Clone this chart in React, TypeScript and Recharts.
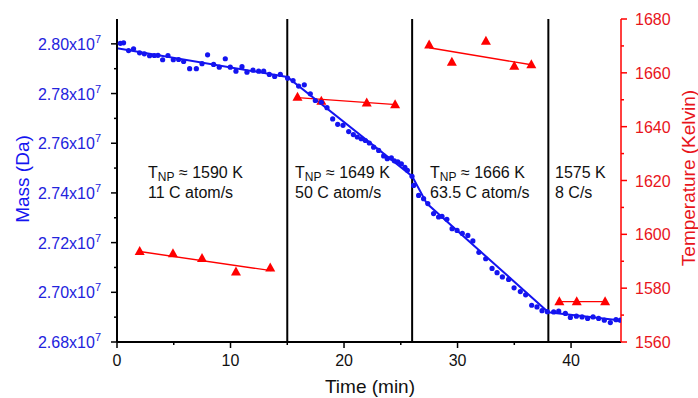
import React from "react";
import {
  ComposedChart,
  Line,
  XAxis,
  YAxis,
  ReferenceLine,
} from "recharts";

// mass points (time in min, mass in units of 1e7 Da)
const massTime = [
  0.29, 0.58, 1.02, 1.46, 1.99, 2.41, 2.87, 3.29, 3.61, 4.02, 4.49, 4.96, 5.43,
  5.87, 6.4, 6.99, 7.49, 7.98, 8.51, 9.01, 9.54, 9.98, 10.48, 11.01, 11.45,
  11.98, 12.48, 12.92, 13.42, 13.89, 14.39, 15.03, 15.51, 16.0, 16.5, 17.03,
  17.47, 18.0, 18.5, 19.0, 19.44, 19.91, 20.41, 20.82, 21.17, 21.52, 21.88,
  22.23, 22.61, 23.05, 23.49, 23.81, 24.17, 24.43, 24.74, 25.05, 25.36, 25.58,
  25.99, 26.13, 26.57, 27.01, 27.38, 27.89, 28.33, 28.63, 29.06, 29.52, 29.96,
  30.42, 30.91, 31.35, 31.88, 32.48, 33.04, 33.48, 33.95, 34.5, 34.98, 35.53,
  36.0, 36.53, 37.0, 37.44, 37.91, 38.47, 38.91, 39.5, 39.94, 40.47, 40.97,
  41.46, 41.94, 42.43, 42.93, 43.46, 43.96, 44.34,
];
const massValue = [
  2.8002, 2.8004, 2.7973, 2.798, 2.7964, 2.796, 2.7952, 2.7953, 2.7954, 2.7936,
  2.7953, 2.7936, 2.7937, 2.7929, 2.79, 2.79, 2.792, 2.7956, 2.7917, 2.7906,
  2.794, 2.7906, 2.789, 2.7908, 2.7886, 2.7894, 2.789, 2.789, 2.7877, 2.7869,
  2.7877, 2.7862, 2.7852, 2.783, 2.7835, 2.7799, 2.7772, 2.7765, 2.7743,
  2.7698, 2.7676, 2.7672, 2.7647, 2.7635, 2.7625, 2.7618, 2.7611, 2.7601,
  2.7584, 2.7571, 2.7549, 2.7538, 2.7541, 2.7529, 2.7525, 2.7517, 2.7503,
  2.7491, 2.7467, 2.743, 2.739, 2.7377, 2.7357, 2.7317, 2.7303, 2.7306, 2.7294,
  2.7256, 2.7249, 2.7237, 2.7229, 2.7207, 2.7161, 2.7135, 2.7096, 2.7079,
  2.7062, 2.7052, 2.7018, 2.7003, 2.699, 2.6948, 2.6941, 2.6926, 2.6922,
  2.6921, 2.6924, 2.6915, 2.6899, 2.6904, 2.6901, 2.6895, 2.6901, 2.6895,
  2.6888, 2.6878, 2.689, 2.6888,
];

// fitted mass trend
const massFitTime = [0, 15, 26, 27.3, 38, 44.4];
const massFitValue = [2.7982, 2.7867, 2.7467, 2.7357, 2.692, 2.6887];

// temperature points per stage
const tempTime1 = [2.0, 4.93, 7.49, 10.48, 13.5];
const tempValue1 = [1593.6, 1592.8, 1591.0, 1586.0, 1587.5];
const tempTime2 = [15.9, 18.0, 22.0, 24.5];
const tempValue2 = [1650.9, 1649.4, 1648.8, 1648.1];
const tempTime3 = [27.5, 29.5, 32.5, 35.0, 36.5];
const tempValue3 = [1670.3, 1663.9, 1671.7, 1662.4, 1663.0];
const tempTime4 = [38.97, 40.5, 43.0];
const tempValue4 = [1575, 1575, 1575];

// temperature fits (start, end)
const tempFits = [
  { t: [2.0, 13.6], v: [1593.6, 1586.5] },
  { t: [15.9, 24.6], v: [1650.8, 1648.2] },
  { t: [27.5, 36.5], v: [1669.3, 1663.0] },
  { t: [38.97, 43.0], v: [1575, 1575] },
];

// stage boundaries (min)
const stageBounds = [15, 26, 38];

const timeTicks = [0, 5, 10, 15, 20, 25, 30, 35, 40];
const massTicks = [
  2.68, 2.69, 2.7, 2.71, 2.72, 2.73, 2.74, 2.75, 2.76, 2.77, 2.78, 2.79, 2.8,
];
const tempTicks = [
  1560, 1570, 1580, 1590, 1600, 1610, 1620, 1630, 1640, 1650, 1660, 1670, 1680,
];

const stageLabels = [
  { line1: "1590 K", line2: "11 C atom/s", x: 148, np: true },
  { line1: "1649 K", line2: "50 C atom/s", x: 295, np: true },
  { line1: "1666 K", line2: "63.5 C atom/s", x: 430, np: true },
  { line1: "1575 K", line2: "8 C/s", x: 555, np: false },
];

const BLUE = "#1414f0";
const BLUE_TEXT = "#2323dd";
const RED = "#ff0000";
const RED_TEXT = "#e8141b";
const FONT = 'Arial, "Liberation Sans", sans-serif';

const zip = (ts: number[], vs: number[], key: string) =>
  ts.map((t, i) => ({ t, [key]: vs[i] }));

const massPoints = zip(massTime, massValue, "mass");
const massFit = zip(massFitTime, massFitValue, "mass");
const tempGroups = [
  zip(tempTime1, tempValue1, "temp"),
  zip(tempTime2, tempValue2, "temp"),
  zip(tempTime3, tempValue3, "temp"),
  zip(tempTime4, tempValue4, "temp"),
];
const tempFitData = tempFits.map((f) => zip(f.t, f.v, "temp"));

const MassTick = (props: any) => {
  const { x, y, payload } = props;
  const v = payload.value as number;
  const major = Math.round(v * 100) % 2 === 0;
  return (
    <g>
      <line x1={x} x2={x - (major ? 6 : 3)} y1={y} y2={y} stroke="#000" strokeWidth={1.5} />
      {major && (
        <text x={x - 16} y={y} dy={6} textAnchor="end" fill={BLUE_TEXT} fontSize={16} fontFamily={FONT}>
          <tspan>{v.toFixed(2)}x10</tspan>
          <tspan dy={-7} fontSize={11}>7</tspan>
        </text>
      )}
    </g>
  );
};

const TempTick = (props: any) => {
  const { x, y, payload } = props;
  const v = payload.value as number;
  const major = v % 20 === 0;
  return (
    <g>
      <line x1={x} x2={x + (major ? 6 : 3)} y1={y} y2={y} stroke={RED} strokeWidth={1.5} />
      {major && (
        <text x={x + 14} y={y} dy={6} textAnchor="start" fill={RED_TEXT} fontSize={16} fontFamily={FONT}>
          {v}
        </text>
      )}
    </g>
  );
};

const TimeTick = (props: any) => {
  const { x, y, payload } = props;
  const v = payload.value as number;
  const major = v % 10 === 0;
  return (
    <g>
      <line x1={x} x2={x} y1={y} y2={y + (major ? 6 : 3)} stroke="#000" strokeWidth={1.5} />
      {major && (
        <text x={x} y={y + 24} textAnchor="middle" fill="#111" fontSize={16} fontFamily={FONT}>
          {v}
        </text>
      )}
    </g>
  );
};

const triangleDot = (props: any) => {
  const { cx, cy, index } = props;
  if (cx == null || cy == null) return <g key={index} />;
  const pts = `${cx},${cy - 5.5} ${cx - 5},${cy + 3.5} ${cx + 5},${cy + 3.5}`;
  return <polygon key={index} points={pts} fill={RED} stroke="none" />;
};

const App = () => {
  return (
    <div style={{ position: "absolute", left: 0, top: 0, width: 698, height: 398, background: "#fff" }}>
      <ComposedChart
        width={698}
        height={398}
        margin={{ top: 19, right: 0, bottom: 0, left: 0 }}
      >
        <XAxis
          xAxisId="time"
          dataKey="t"
          type="number"
          domain={[0, 44.4]}
          allowDataOverflow
          ticks={timeTicks}
          tick={TimeTick}
          tickLine={false}
          tickSize={0}
          tickMargin={0}
          height={56}
          axisLine={{ stroke: "#000", strokeWidth: 2 }}
        />
        <YAxis
          yAxisId="mass"
          orientation="left"
          type="number"
          domain={[2.68, 2.81]}
          allowDataOverflow
          ticks={massTicks}
          tick={MassTick}
          tickLine={false}
          tickSize={0}
          tickMargin={0}
          width={117}
          axisLine={{ stroke: "#000", strokeWidth: 2 }}
        />
        <YAxis
          yAxisId="temp"
          orientation="right"
          type="number"
          domain={[1560, 1680]}
          allowDataOverflow
          ticks={tempTicks}
          tick={TempTick}
          tickLine={false}
          tickSize={0}
          tickMargin={0}
          width={77}
          axisLine={{ stroke: RED, strokeWidth: 1.5 }}
        />

        {stageBounds.map((b) => (
          <ReferenceLine
            key={b}
            x={b}
            xAxisId="time"
            yAxisId="mass"
            stroke="#000"
            strokeWidth={2}
          />
        ))}

        {tempFitData.map((d, i) => (
          <Line
            key={`tf${i}`}
            data={d}
            xAxisId="time"
            yAxisId="temp"
            dataKey="temp"
            type="linear"
            stroke={RED}
            strokeWidth={1.4}
            dot={false}
            activeDot={false}
            isAnimationActive={false}
          />
        ))}
        {tempGroups.map((d, i) => (
          <Line
            key={`tp${i}`}
            data={d}
            xAxisId="time"
            yAxisId="temp"
            dataKey="temp"
            type="linear"
            stroke="none"
            dot={triangleDot}
            activeDot={false}
            isAnimationActive={false}
          />
        ))}

        <Line
          data={massPoints}
          xAxisId="time"
          yAxisId="mass"
          dataKey="mass"
          type="linear"
          stroke="none"
          dot={{ r: 2.6, fill: BLUE, stroke: "none" }}
          activeDot={false}
          isAnimationActive={false}
        />
        <Line
          data={massFit}
          xAxisId="time"
          yAxisId="mass"
          dataKey="mass"
          type="linear"
          stroke={BLUE}
          strokeWidth={2}
          dot={false}
          activeDot={false}
          isAnimationActive={false}
        />
      </ComposedChart>

      <svg
        width={698}
        height={398}
        style={{ position: "absolute", left: 0, top: 0, pointerEvents: "none" }}
        fontFamily={FONT}
      >
        {stageLabels.map((s) => (
          <g key={s.x}>
            <text x={s.x} y={178} fontSize={16} fill="#111">
              {s.np ? (
                <>
                  <tspan>T</tspan>
                  <tspan dy={3} fontSize={12}>NP</tspan>
                  <tspan dy={-3}>{` \u2248 ${s.line1}`}</tspan>
                </>
              ) : (
                s.line1
              )}
            </text>
            <text x={s.x} y={198} fontSize={16} fill="#111">
              {s.line2}
            </text>
          </g>
        ))}
        <text x={370} y={393} textAnchor="middle" fontSize={19} fill="#111">
          Time (min)
        </text>
        <text
          transform="translate(22,179) rotate(-90)"
          textAnchor="middle"
          dominantBaseline="central"
          fontSize={19}
          fill={BLUE}
        >
          Mass (Da)
        </text>
        <text
          transform="translate(688,178) rotate(-90)"
          textAnchor="middle"
          dominantBaseline="central"
          fontSize={19}
          fill={RED_TEXT}
        >
          Temperature (Kelvin)
        </text>
      </svg>
    </div>
  );
};

export default App;
